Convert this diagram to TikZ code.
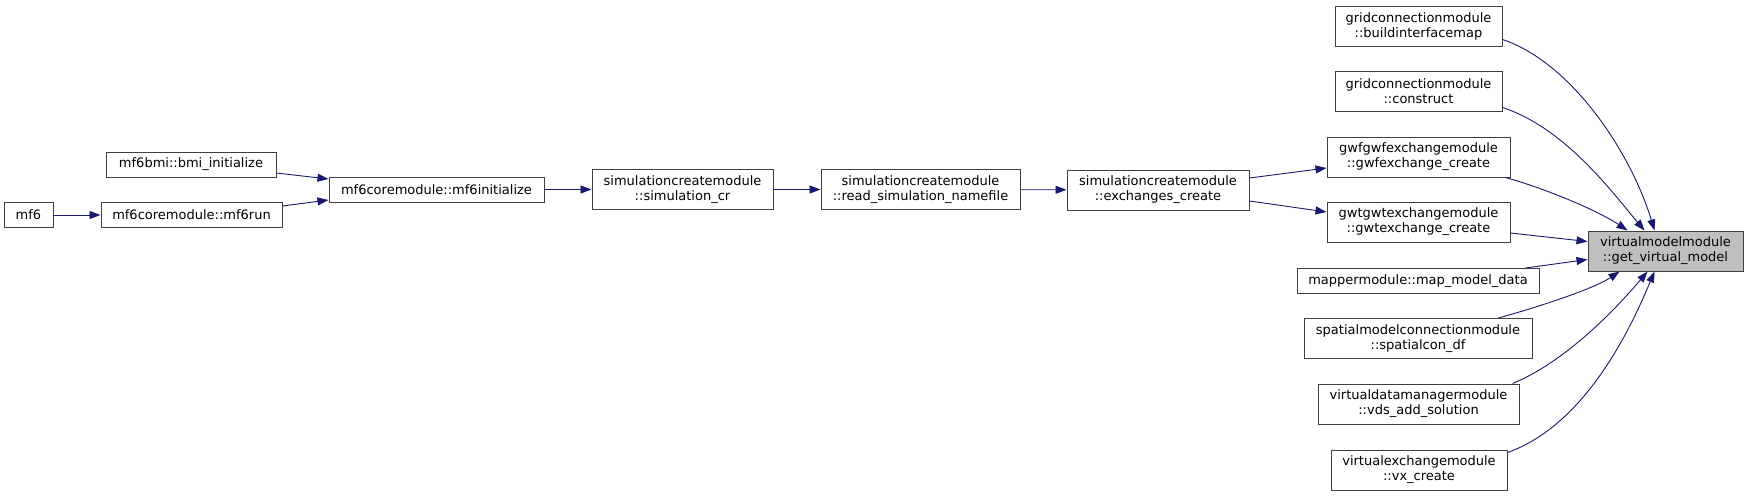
\documentclass[tikz,border=0pt]{standalone}
\usepackage{fontspec}
\setmainfont{DejaVu Sans}
\usetikzlibrary{arrows.meta,calc}
\definecolor{edgeblue}{HTML}{191970}
\definecolor{boxborder}{HTML}{404040}
\definecolor{hl}{HTML}{BFBFBF}
\begin{document}
\begin{tikzpicture}[x=1pt,y=-1pt,
  fn/.style={draw=boxborder, line width=1pt, fill=white, inner sep=0pt, align=center,
             font=\fontsize{13}{15}\selectfont, minimum height=25pt},
  fn2/.style={fn, minimum height=40pt},
  edge/.style={draw=edgeblue, line width=0.9pt, -{Triangle[length=11pt,width=8pt]}}]
\fill[white] (0,0) rectangle (1748,496);
\useasboundingbox (0,0) rectangle (1748,496);

\node[fn, minimum width=49pt] (mf6) at (28.5,215) {mf6};
\node[fn, minimum width=181pt] (run) at (191.5,215) {mf6coremodule::mf6run};
\node[fn, minimum width=170pt] (bmi) at (191,164.5) {mf6bmi::bmi\_initialize};
\node[fn, minimum width=215pt] (init) at (436.5,189.5) {mf6coremodule::mf6initialize};
\node[fn2, minimum width=181pt] (simcr) at (682.5,189.5) {simulationcreatemodule\\::simulation\_cr};
\node[fn2, minimum width=199pt] (read) at (920.5,189.5) {simulationcreatemodule\\::read\_simulation\_namefile};
\node[fn2, minimum width=182pt] (exch) at (1158,190) {simulationcreatemodule\\::exchanges\_create};
\node[fn2, minimum width=167pt] (build) at (1418.5,26) {gridconnectionmodule\\::buildinterfacemap};
\node[fn2, minimum width=167pt] (constr) at (1418.5,91) {gridconnectionmodule\\::construct};
\node[fn2, minimum width=183pt] (gwf) at (1418.5,157) {gwfgwfexchangemodule\\::gwfexchange\_create};
\node[fn2, minimum width=183pt] (gwt) at (1418.5,222) {gwtgwtexchangemodule\\::gwtexchange\_create};
\node[fn, minimum width=242pt] (map) at (1418,281) {mappermodule::map\_model\_data};
\node[fn2, minimum width=228pt] (spat) at (1418,338.5) {spatialmodelconnectionmodule\\::spatialcon\_df};
\node[fn2, minimum width=201pt] (vds) at (1418.5,404) {virtualdatamanagermodule\\::vds\_add\_solution};
\node[fn2, minimum width=176pt] (vx) at (1419,470) {virtualexchangemodule\\::vx\_create};
\node[fn2, minimum width=155pt, fill=hl] (vm) at (1665.5,251) {virtualmodelmodule\\::get\_virtual\_model};

\draw[edge] (mf6) -- (run);
\draw[edge] ($(bmi.east)+(0,8.5)$) -- ($(init.west)+(0,-10.5)$);
\draw[edge] ($(run.east)+(0,-9)$) -- ($(init.west)+(0,10.5)$);
\draw[edge] (init) -- (simcr);
\draw[edge] (simcr) -- (read);
\draw[edge] (read) -- (exch);
\draw[edge] ($(exch.east)+(0,-12)$) -- ($(gwf.west)+(0,11)$);
\draw[edge] ($(exch.east)+(0,11)$) -- ($(gwt.west)+(0,-10)$);

\draw[edge] ($(build.south east)+(0,-7)$) .. controls (1570,62) and (1630,150) .. ($(vm.north west)+(67,0)$);
\draw[edge] ($(constr.south east)+(0,-4)$) .. controls (1565,128) and (1612,192) .. ($(vm.north west)+(57,0)$);
\draw[edge] ($(gwf.south east)+(-5,0)$) .. controls (1550,190) and (1600,212) .. ($(vm.north west)+(40,0)$);
\draw[edge] ($(gwt.east)+(0,11)$) -- ($(vm.north west)+(0,11)$);
\draw[edge] ($(map.north east)+(-14,0)$) -- ($(vm.north west)+(0,29)$);
\draw[edge] ($(spat.north east)+(-34,0)$) .. controls (1545,305) and (1595,288) .. ($(vm.south west)+(32,0)$);
\draw[edge] ($(vds.north east)+(-7,0)$) .. controls (1565,362) and (1615,310) .. ($(vm.south west)+(60,0)$);
\draw[edge] ($(vx.north east)+(0,3)$) .. controls (1585,425) and (1630,330) .. ($(vm.south west)+(67,0)$);
\end{tikzpicture}
\end{document}
